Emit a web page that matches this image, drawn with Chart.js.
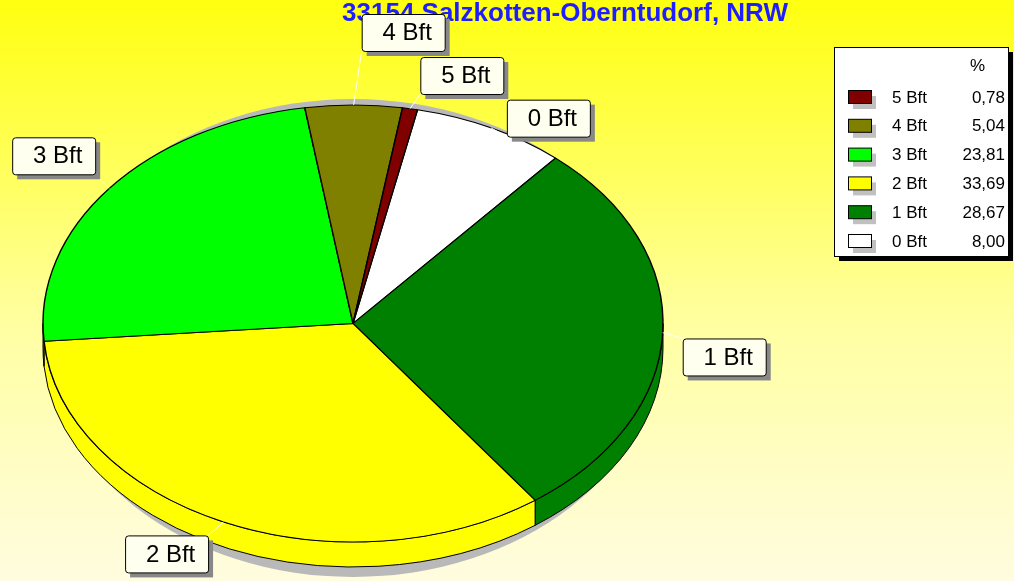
<!DOCTYPE html>
<html>
<head>
<meta charset="utf-8">
<script src="https://cdn.jsdelivr.net/npm/chart.js@4.4.1/dist/chart.umd.min.js"></script>
<style>
html, body { margin: 0; padding: 0; overflow: hidden; }
#wrap { width: 1014px; height: 581px; position: relative; }
</style>
</head>
<body>
<div id="wrap"><canvas id="windChart"></canvas></div>
<script>
// Wind force distribution (Beaufort), percent
const categories = ['0 Bft', '1 Bft', '2 Bft', '3 Bft', '4 Bft', '5 Bft'];
const percentValues = [8.00, 28.67, 33.69, 23.81, 5.04, 0.78];
const chartTitle = '33154 Salzkotten-Oberntudorf, NRW';
const sliceColors = ['#ffffff', '#008000', '#ffff00', '#00ff00', '#808000', '#800000'];

// small nudges of the label boxes (the original moves them to avoid overlaps)
const labelNudge = [[8, 25], [2, 5], [-8, -3], [0, -3], [8, -36], [7, 3]];

const DEPTH = 25;
const BOX_W = 83, BOX_H = 37;

function pieGeometry(chart) {
    const area = chart.chartArea;
    const arcs = chart.getDatasetMeta(0).data;
    return {
        arcs,
        cx: arcs[0].x,
        cy: arcs[0].y,
        rx: area.width / 2,
        ry: area.height / 2,
        r: arcs[0].outerRadius
    };
}

const pie3d = {
    id: 'pie3d',
    beforeDraw(chart) {
        const ctx = chart.ctx;
        const g = ctx.createLinearGradient(0, 0, 0, chart.height);
        g.addColorStop(0, '#ffff10');
        g.addColorStop(0.55, '#ffffa0');
        g.addColorStop(1, '#fffce0');
        ctx.save();
        ctx.fillStyle = g;
        ctx.fillRect(0, 0, chart.width, chart.height);
        ctx.restore();
    },
    beforeDatasetsDraw(chart) {
        const ctx = chart.ctx;
        const { arcs, cx, cy, rx, ry, r } = pieGeometry(chart);

        // drop shadow
        ctx.save();
        ctx.fillStyle = '#b9b9b9';
        ctx.beginPath();
        ctx.ellipse(cx, cy + DEPTH / 2 + 2, rx - 2, ry + DEPTH / 2 + 8, 0, 0, Math.PI * 2);
        ctx.fill();

        // side walls of the front half
        arcs.forEach((el, i) => {
            for (let k = -1; k <= 1; k++) {
                const lo = Math.max(el.startAngle, 2 * Math.PI * k);
                const hi = Math.min(el.endAngle, 2 * Math.PI * k + Math.PI);
                if (hi <= lo) continue;
                ctx.beginPath();
                ctx.ellipse(cx, cy, rx, ry, 0, lo, hi, false);
                ctx.ellipse(cx, cy + DEPTH, rx, ry, 0, hi, lo, true);
                ctx.closePath();
                ctx.fillStyle = sliceColors[i];
                ctx.fill();
                ctx.strokeStyle = '#000';
                ctx.lineWidth = 1;
                ctx.stroke();
            }
        });
        ctx.restore();

        // squash the round pie into the ellipse of the chart area
        ctx.save();
        ctx.translate(cx, cy);
        ctx.scale(rx / r, ry / r);
        ctx.translate(-cx, -cy);
    },
    afterDatasetsDraw(chart) {
        chart.ctx.restore();
    },
    afterDraw(chart) {
        const ctx = chart.ctx;
        const { arcs, cx, cy, rx, ry } = pieGeometry(chart);
        ctx.save();

        // title
        ctx.font = 'bold 26px "Liberation Sans", Arial, sans-serif';
        ctx.fillStyle = '#1e1eff';
        ctx.textAlign = 'center';
        ctx.textBaseline = 'alphabetic';
        ctx.fillText(chartTitle, 565, 21);

        // slice labels
        arcs.forEach((el, i) => {
            const mid = (el.startAngle + el.endAngle) / 2;
            const c = Math.cos(mid), s = Math.sin(mid);
            const ex = cx + rx * c, ey = cy + ry * s;
            const ax = ex + 18 * c + labelNudge[i][0];
            const ay = ey + 18 * s + labelNudge[i][1];
            const bx = c < 0 ? ax - BOX_W : ax;
            const by = s < 0 ? ay - BOX_H : ay;

            ctx.strokeStyle = '#ffffff';
            ctx.lineWidth = 1;
            ctx.beginPath();
            ctx.moveTo(ex, ey);
            ctx.lineTo(ax, ay);
            ctx.stroke();

            ctx.fillStyle = '#888888';
            ctx.fillRect(bx + 5, by + 5, BOX_W, BOX_H);
            ctx.beginPath();
            ctx.roundRect(bx + 0.5, by + 0.5, BOX_W, BOX_H, 3);
            ctx.fillStyle = '#fffff0';
            ctx.fill();
            ctx.strokeStyle = '#000';
            ctx.stroke();

            ctx.fillStyle = '#000';
            ctx.font = '24px "Liberation Sans", Arial, sans-serif';
            ctx.textAlign = 'center';
            ctx.textBaseline = 'middle';
            ctx.fillText(categories[i], bx + BOX_W / 2 + 4, by + BOX_H / 2 + 1);
        });

        // legend
        const lx = 834, ly = 47, lw = 174, lh = 209;
        ctx.fillStyle = '#000';
        ctx.fillRect(lx + 5, ly + 5, lw, lh);
        ctx.fillStyle = '#fff';
        ctx.fillRect(lx, ly, lw, lh);
        ctx.strokeStyle = '#000';
        ctx.lineWidth = 1;
        ctx.strokeRect(lx + 0.5, ly + 0.5, lw, lh);

        ctx.fillStyle = '#000';
        ctx.font = '17px "Liberation Sans", Arial, sans-serif';
        ctx.textBaseline = 'middle';
        ctx.textAlign = 'left';
        ctx.fillText('%', 970, 66);

        for (let j = 0; j < categories.length; j++) {
            const i = categories.length - 1 - j;
            const y = 97 + j * 28.8;
            ctx.fillStyle = '#c0c0c0';
            ctx.fillRect(lx + 19, y - 1, 23, 13);
            ctx.fillStyle = sliceColors[i];
            ctx.fillRect(lx + 14.5, y - 6.5, 23, 13);
            ctx.strokeStyle = '#000';
            ctx.strokeRect(lx + 14.5, y - 6.5, 23, 13);

            ctx.fillStyle = '#000';
            ctx.textAlign = 'left';
            ctx.fillText(categories[i], 892, y + 1);
            ctx.textAlign = 'right';
            ctx.fillText(percentValues[i].toFixed(2).replace('.', ','), 1005, y + 1);
        }
        ctx.restore();
    }
};

const ctx = document.getElementById('windChart').getContext('2d');
new Chart(ctx, {
    type: 'pie',
    data: {
        labels: categories,
        datasets: [{
            data: percentValues,
            backgroundColor: sliceColors,
            borderColor: '#000000',
            borderWidth: 1
        }]
    },
    options: {
        responsive: true,
        maintainAspectRatio: false,
        animation: false,
        events: [],
        rotation: 12,
        layout: { padding: { left: 43, right: 351, top: 105, bottom: 39 } },
        plugins: {
            legend: { display: false },
            title: { display: false },
            tooltip: { enabled: false }
        }
    },
    plugins: [pie3d]
});
</script>
</body>
</html>
